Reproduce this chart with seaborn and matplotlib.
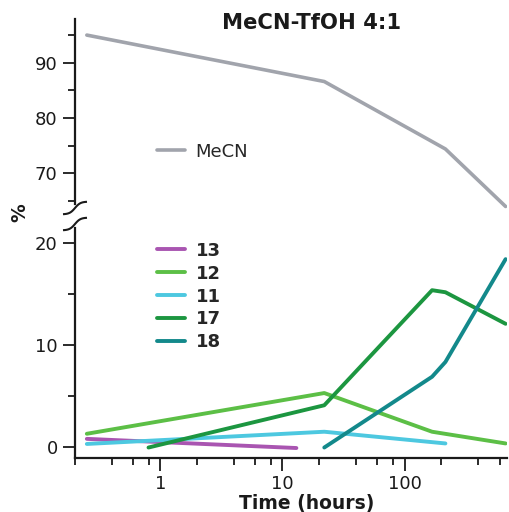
import numpy as np
import pandas as pd
import matplotlib
matplotlib.use("Agg")
import matplotlib.pyplot as plt
import seaborn as sns
from matplotlib.lines import Line2D
from matplotlib.ticker import FixedLocator, NullFormatter, FixedFormatter

sns.set_theme(style="ticks")
plt.rcParams['font.family'] = ['DejaVu Sans']

title = "MeCN-TfOH 4:1"
x_label = "Time (hours)"
y_label = "%"

# top panel (solvent)
mecn_time = [0.25, 22, 216, 672]
mecn_pct = [95.0, 86.6, 74.4, 64.0]

# bottom panel (products)
c13_time = [0.25, 13]
c13_pct = [0.8, -0.1]
c12_time = [0.25, 22, 168, 672]
c12_pct = [1.3, 5.3, 1.5, 0.35]
c11_time = [0.25, 22, 216]
c11_pct = [0.3, 1.5, 0.35]
c17_time = [0.8, 22, 168, 216, 672]
c17_pct = [-0.05, 4.1, 15.4, 15.2, 12.1]
c18_time = [22, 168, 216, 672]
c18_pct = [-0.05, 6.9, 8.35, 18.45]

compounds = ["13", "12", "11", "17", "18"]
colors = {"MeCN": "#a1a4ac", "13": "#a955b1", "12": "#5cbf46",
          "11": "#4dc8e0", "17": "#1c9640", "18": "#13898b"}

x_major = [1, 10, 100]
x_major_labels = ["1", "10", "100"]
x_minor = [0.2, 0.4, 0.6, 0.8, 2, 4, 6, 8, 20, 40, 60, 80, 200, 400, 600]

df_top = pd.DataFrame({"time": mecn_time, "pct": mecn_pct, "compound": "MeCN"})
series = {"13": (c13_time, c13_pct), "12": (c12_time, c12_pct),
          "11": (c11_time, c11_pct), "17": (c17_time, c17_pct),
          "18": (c18_time, c18_pct)}
df_low = pd.concat([pd.DataFrame({"time": t, "pct": p, "compound": k})
                    for k, (t, p) in series.items()], ignore_index=True)

W, H = 510, 512
fig = plt.figure(figsize=(W / 100, H / 100), dpi=100)
fig.patch.set_facecolor("white")

def fx(px):
    return px / W

def fy(py):
    return (H - py) / H

ax_top = fig.add_axes([fx(75), fy(212), fx(507) - fx(75), fy(18.5) - fy(212)])
ax_low = fig.add_axes([fx(75), fy(457.7), fx(507) - fx(75), fy(223) - fy(457.7)])

for ax in (ax_top, ax_low):
    ax.set_xscale("log")
    ax.set_xlim(0.2, 690)
    ax.set_facecolor("white")

sns.lineplot(data=df_top, x="time", y="pct", hue="compound", palette=colors,
             estimator=None, sort=False, lw=2.6, ax=ax_top)
sns.lineplot(data=df_low, x="time", y="pct", hue="compound", hue_order=compounds,
             palette=colors, estimator=None, sort=False, lw=2.8, ax=ax_low)

ax_top.set_ylim(63, 98)
ax_low.set_ylim(-1.05, 22.0)

ink = "#1a1a1a"
for ax in (ax_top, ax_low):
    for s in ("top", "right"):
        ax.spines[s].set_visible(False)
    ax.spines["left"].set_linewidth(1.6)
    ax.spines["left"].set_color(ink)
    ax.spines["bottom"].set_linewidth(1.6)
    ax.spines["bottom"].set_color(ink)
    ax.set_xlabel("")
    ax.set_ylabel("")
    ax.tick_params(which="major", length=9, width=1.3, color=ink,
                   labelsize=13, labelcolor=ink, pad=3.5, direction="out")
    ax.tick_params(which="minor", length=5, width=1.3, color=ink, direction="out")

ax_top.spines["bottom"].set_visible(False)
ax_top.tick_params(axis="x", which="both", bottom=False, labelbottom=False)
ax_top.spines["left"].set_bounds(64.5, 98)
ax_top.yaxis.set_major_locator(FixedLocator([70, 80, 90]))
ax_top.yaxis.set_minor_locator(FixedLocator([65, 75, 85, 95]))

ax_low.spines["left"].set_bounds(-1.05, 21.5)
ax_low.yaxis.set_major_locator(FixedLocator([0, 10, 20]))
ax_low.yaxis.set_minor_locator(FixedLocator([5, 15]))
ax_low.xaxis.set_major_locator(FixedLocator(x_major))
ax_low.xaxis.set_major_formatter(FixedFormatter(x_major_labels))
ax_low.xaxis.set_minor_locator(FixedLocator(x_minor))
ax_low.xaxis.set_minor_formatter(NullFormatter())

# legends
h, l = ax_top.get_legend_handles_labels()
ax_top.legend(h, l, loc="center left", bbox_to_anchor=(fx(156.7), fy(151.7)),
              bbox_transform=fig.transFigure, frameon=False, borderpad=0,
              borderaxespad=0, handlelength=1.55, handletextpad=0.6,
              prop={"size": 13})
h, l = ax_low.get_legend_handles_labels()
ax_low.legend(h, l, loc="center left", bbox_to_anchor=(fx(156.7), fy(296.5)),
              bbox_transform=fig.transFigure, frameon=False, borderpad=0,
              borderaxespad=0, handlelength=1.55, handletextpad=0.6,
              labelspacing=0.27, prop={"size": 13, "weight": "bold"})

# axis break marks
t = np.linspace(-1, 1, 40)
for cy in (208, 224):
    xs = 75 + 12 * t
    ys = cy - 6.2 * np.tanh(2.2 * t) / np.tanh(2.2)
    fig.add_artist(Line2D(fx(xs), fy(ys), transform=fig.transFigure,
                          color=ink, lw=1.5, solid_capstyle="butt"))

fig.text(fx(311.5), fy(23), title, ha="center", va="center",
         fontsize=15.2, fontweight="bold", color=ink)
fig.text(fx(306.7), fy(503), x_label, ha="center", va="center",
         fontsize=13.5, fontweight="bold", color=ink)
fig.text(fx(19.5), fy(212.5), y_label, ha="center", va="center",
         rotation=90, fontsize=13.5, fontweight="bold", color=ink)

fig.savefig("out.png", dpi=100, facecolor="white")
